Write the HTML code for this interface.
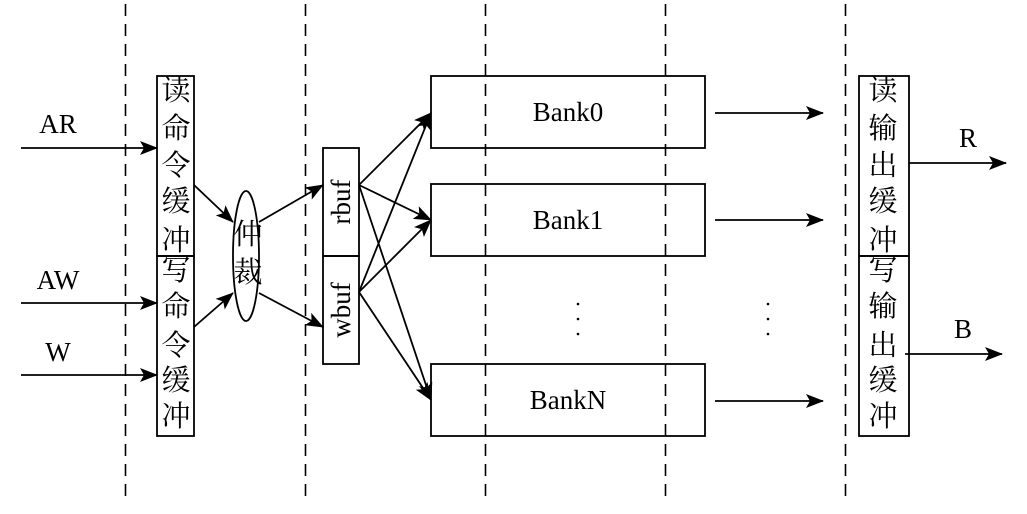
<!DOCTYPE html>
<html><head><meta charset="utf-8"><style>
html,body{margin:0;padding:0;background:#fff;}
svg{display:block;}
text{font-family:"Liberation Serif","Noto Serif CJK SC",serif;fill:#000;}
.cn{font-family:"Liberation Serif","Noto Sans CJK SC",sans-serif;font-size:29px;}
</style></head><body>
<svg width="1027" height="514" viewBox="0 0 1027 514" xmlns="http://www.w3.org/2000/svg">
<defs>
<marker id="a" markerWidth="18" markerHeight="14" refX="17" refY="7" orient="auto" markerUnits="userSpaceOnUse">
<path d="M0,0 L18,7 L0,14 L4,7 Z" fill="#000"/></marker>
</defs>
<g stroke="#000" stroke-width="1.6" stroke-dasharray="12,8">
<line x1="125.5" y1="4" x2="125.5" y2="502"/>
<line x1="305.5" y1="4" x2="305.5" y2="502"/>
<line x1="485.5" y1="4" x2="485.5" y2="502"/>
<line x1="665.5" y1="4" x2="665.5" y2="502"/>
<line x1="845.5" y1="4" x2="845.5" y2="502"/>
</g>
<g fill="none" stroke="#000" stroke-width="1.8">
<rect x="157" y="76" width="37" height="180"/>
<rect x="157" y="256" width="37" height="180"/>
<ellipse cx="246" cy="256" rx="13" ry="65" fill="#fff"/>
<rect x="323" y="148" width="36" height="108"/>
<rect x="323" y="256" width="36" height="108"/>
<rect x="431" y="76" width="274" height="72"/>
<rect x="431" y="184" width="274" height="72"/>
<rect x="431" y="364" width="274" height="72"/>
<rect x="859" y="76" width="50" height="180"/>
<rect x="859" y="256" width="50" height="180"/>
</g>
<g stroke="#000" stroke-width="1.8" marker-end="url(#a)">
<line x1="21" y1="148" x2="157" y2="148"/>
<line x1="21" y1="303" x2="157" y2="303"/>
<line x1="21" y1="375" x2="157" y2="375"/>
<line x1="194" y1="185" x2="233" y2="222"/>
<line x1="194" y1="327" x2="233" y2="293"/>
<line x1="259" y1="222" x2="323" y2="185"/>
<line x1="259" y1="293" x2="323" y2="327"/>
<line x1="359" y1="185" x2="431" y2="113"/>
<line x1="359" y1="185" x2="431" y2="220"/>
<line x1="359" y1="185" x2="431" y2="400"/>
<line x1="359" y1="292" x2="431" y2="113"/>
<line x1="359" y1="292" x2="431" y2="220"/>
<line x1="359" y1="292" x2="431" y2="400"/>
<line x1="715" y1="113" x2="823" y2="113"/>
<line x1="715" y1="220" x2="823" y2="220"/>
<line x1="715" y1="401" x2="823" y2="401"/>
<line x1="909" y1="163" x2="1006" y2="163"/>
<line x1="905" y1="354" x2="1002" y2="354"/>
</g>
<g fill="#000">
<circle cx="578" cy="304" r="1.3"/><circle cx="578" cy="319" r="1.3"/><circle cx="578" cy="334" r="1.3"/>
<circle cx="768" cy="304" r="1.3"/><circle cx="768" cy="319" r="1.3"/><circle cx="768" cy="334" r="1.3"/>
</g>
<g font-size="27" text-anchor="middle">
<text x="58" y="133">AR</text>
<text x="58" y="289">AW</text>
<text x="58" y="361">W</text>
<text x="968" y="147">R</text>
<text x="963" y="338">B</text>
<text x="568" y="121">Bank0</text>
<text x="568" y="229">Bank1</text>
<text x="568" y="409">BankN</text>
<text transform="translate(350,202) rotate(-90)">rbuf</text>
<text transform="translate(350,310) rotate(-90)">wbuf</text>
</g>
<g class="cn" text-anchor="middle">
<text x="176" y="100">读</text><text x="176" y="138">命</text><text x="176" y="175">令</text><text x="176" y="211">缓</text><text x="176" y="250">冲</text>
<text x="176" y="280">写</text><text x="176" y="316">命</text><text x="176" y="355">令</text><text x="176" y="390">缓</text><text x="176" y="426">冲</text>
<text x="248" y="244">仲</text><text x="248" y="282">裁</text>
<text x="883" y="100">读</text><text x="883" y="138">输</text><text x="883" y="175">出</text><text x="883" y="211">缓</text><text x="883" y="250">冲</text>
<text x="883" y="280">写</text><text x="883" y="316">输</text><text x="883" y="355">出</text><text x="883" y="390">缓</text><text x="883" y="426">冲</text>
</g>
</svg>
</body></html>
